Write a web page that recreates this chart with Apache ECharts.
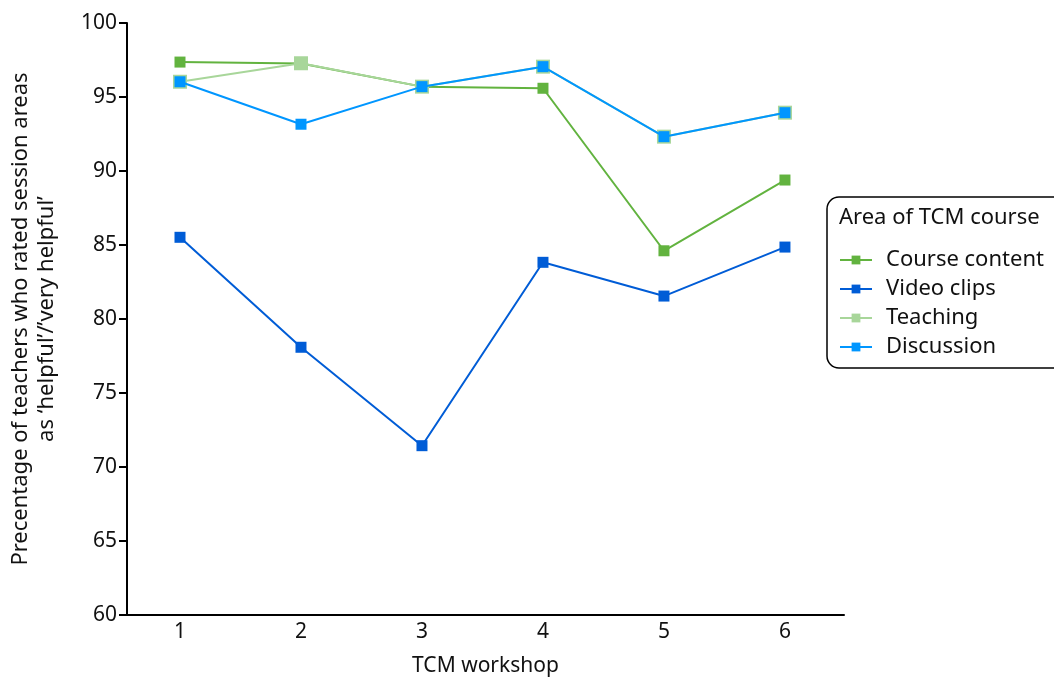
<!DOCTYPE html>
<html>
<head>
<meta charset="utf-8">
<script src="https://cdn.jsdelivr.net/npm/echarts@6/dist/echarts.min.js"></script>
<style>html,body{margin:0;padding:0;background:#fff}#c{width:1054px;height:679px}</style>
</head>
<body>
<div id="c"></div>
<script>
const workshops = [1, 2, 3, 4, 5, 6];
const courseContent = [97.36, 97.26, 95.7, 95.59, 84.61, 89.39];
const videoClips = [85.52, 78.09, 71.44, 83.83, 81.55, 84.86];
const teaching = [96.03, 97.28, 95.7, 97.05, 92.32, 93.94];
const discussion = [96.03, 93.16, 95.7, 97.05, 92.32, 93.94];
const seriesNames = ['Course content', 'Video clips', 'Teaching', 'Discussion'];
const yTicks = [60, 65, 70, 75, 80, 85, 90, 95, 100];

const FONT = 'Noto Sans';
const FS = 21;
const LFS = 22;
const colors = ['#62b33f', '#005cd6', '#a8d69a', '#0096ff'];
const pairs = arr => workshops.map((w, i) => [w, arr[i]]);
const mk = (name, arr, color, size, z) => ({
  name, type: 'line', data: pairs(arr), symbol: 'rect', symbolSize: size,
  lineStyle: {color, width: 2}, itemStyle: {color}, z,
  emphasis: {disabled: true}, animation: false
});

const chart = echarts.init(document.getElementById('c'), null, {renderer: 'canvas'});
chart.setOption({
  backgroundColor: '#fff',
  animation: false,
  grid: {left: 127, top: 23, right: 210, bottom: 64, containLabel: false, outerBoundsMode: 'none'},
  xAxis: {
    type: 'value', min: 0.562, max: 6.488, splitNumber: 6,
    name: 'TCM workshop', nameLocation: 'middle', nameGap: 41,
    nameTextStyle: {fontFamily: FONT, fontSize: FS, color: '#111'},
    axisLine: {show: true, lineStyle: {color: '#000', width: 2}},
    axisTick: {show: false},
    splitLine: {show: false},
    axisLabel: {
      fontFamily: FONT, fontSize: FS, color: '#111', margin: 7,
      showMinLabel: false, showMaxLabel: false,
      formatter: v => (Math.abs(v - Math.round(v)) < 1e-6 && workshops.indexOf(Math.round(v)) >= 0) ? String(Math.round(v)) : ''
    }
  },
  yAxis: {
    type: 'value', min: yTicks[0], max: yTicks[yTicks.length - 1], interval: 5,
    name: 'Precentage of teachers who rated session areas\nas \u2018helpful\u2019/\u2019very helpful\u2019',
    nameLocation: 'middle', nameGap: 67, nameRotate: 90,
    nameTextStyle: {fontFamily: FONT, fontSize: 22, color: '#111', lineHeight: 26},
    axisLine: {show: true, lineStyle: {color: '#000', width: 2}},
    axisTick: {show: true, inside: false, length: 8, lineStyle: {color: '#000', width: 2}},
    splitLine: {show: false},
    axisLabel: {fontFamily: FONT, fontSize: FS, color: '#111', margin: 10}
  },
  legend: {
    data: seriesNames,
    orient: 'vertical', left: 834, top: 244,
    itemWidth: 32, itemHeight: 11, itemGap: 7,
    textStyle: {fontFamily: FONT, fontSize: LFS, color: '#111', padding: [0, 0, 0, 9]},
    selectedMode: false
  },
  graphic: [
    {type: 'rect', shape: {x: 827, y: 197, width: 240, height: 171, r: 12},
     style: {fill: 'none', stroke: '#000', lineWidth: 1.5}, z: 1},
    {type: 'text', left: 839, top: 207,
     style: {text: 'Area of TCM course', font: LFS + 'px "Noto Sans"', fill: '#111'}, z: 2}
  ],
  series: [
    mk(seriesNames[0], courseContent, colors[0], 11, 2),
    mk(seriesNames[1], videoClips, colors[1], 11, 3),
    mk(seriesNames[2], teaching, colors[2], 14, 4),
    mk(seriesNames[3], discussion, colors[3], 11, 5)
  ]
});
</script>
</body>
</html>
